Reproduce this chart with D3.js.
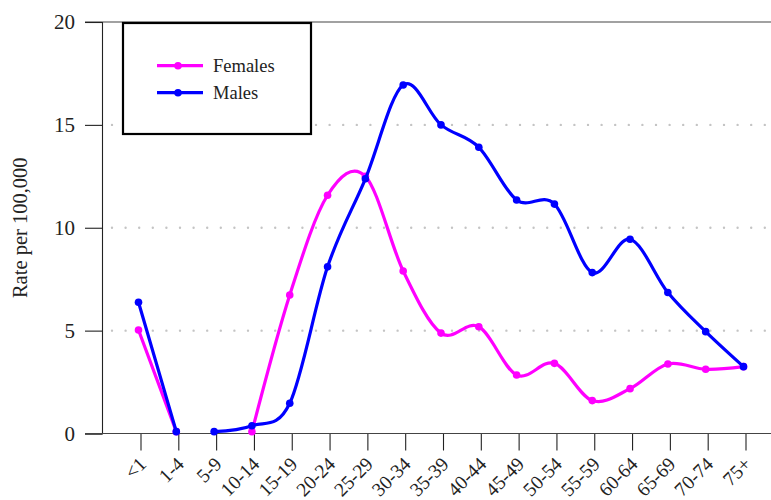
<!DOCTYPE html>
<html>
<head>
<meta charset="utf-8">
<script src="https://cdn.jsdelivr.net/npm/d3@7"></script>
<style>
  html, body { margin: 0; padding: 0; background: #fff; }
  svg text { font-family: "Liberation Serif", "DejaVu Serif", serif; fill: #222; }
</style>
</head>
<body>
<svg id="chart" width="771" height="500"></svg>
<script>
// Age groups along the x axis
const ageGroups = ["<1", "1-4", "5-9", "10-14", "15-19", "20-24", "25-29", "30-34",
  "35-39", "40-44", "45-49", "50-54", "55-59", "60-64", "65-69", "70-74", "75+"];

// Rates per 100,000 (null = no value reported)
const femaleRates = [5.03, 0.09, null, 0.09, 6.73, 11.58, 12.5, 7.9, 4.88, 5.19,
  2.84, 3.41, 1.6, 2.18, 3.38, 3.12, 3.25];
const maleRates = [6.38, 0.09, 0.09, 0.38, 1.47, 8.1, 12.38, 16.94, 15.0, 13.91,
  11.35, 11.15, 7.82, 9.44, 6.85, 4.95, 3.25];

// Index where each connected run of the line begins
const femaleRuns = [0, 3];
const maleRuns = [0, 2];

const yTicks = [0, 5, 10, 15, 20];
const seriesNames = ["Females", "Males"];
const seriesColors = ["#ff00ff", "#0000ff"];

const svg = d3.select("#chart");
const W = 771;
const plotLeft = 102, plotTop = 22, plotBottom = 433.5;

const x = d3.scalePoint().domain(ageGroups).range([139.5, 744.5]);
const y = d3.scaleLinear().domain([0, 20]).range([plotBottom, plotTop]);

// Dotted horizontal guides
svg.append("g").selectAll("line")
  .data(yTicks.filter(v => v > 0 && v < 20))
  .join("line")
  .attr("x1", plotLeft + 10).attr("x2", W)
  .attr("y1", d => y(d)).attr("y2", d => y(d))
  .attr("stroke", "#c4c4c4").attr("stroke-width", 2.4)
  .attr("stroke-linecap", "round")
  .attr("stroke-dasharray", "0,13.6");

// Solid frame line at the top of the value range
svg.append("line").attr("x1", 85).attr("x2", W)
  .attr("y1", y(20)).attr("y2", y(20)).attr("stroke", "#444").attr("stroke-width", 1.2);

// Y axis
const yAxis = d3.axisLeft(y).tickValues(yTicks).tickSize(17).tickPadding(10)
  .tickFormat(d3.format("d"));
const gy = svg.append("g").attr("transform", `translate(${plotLeft},0)`).call(yAxis);
gy.select(".domain").attr("stroke", "#222").attr("stroke-width", 1.1);
gy.selectAll(".tick line").attr("stroke", "#222").attr("stroke-width", 1.1);
gy.selectAll(".tick text").style("font-size", "21px")
  .style("font-family", "Liberation Serif, serif").attr("fill", "#222");

// X axis
const xAxis = d3.axisBottom(x).tickSize(17).tickFormat(() => "");
const gx = svg.append("g").attr("transform", `translate(0,${plotBottom})`).call(xAxis);
gx.select(".domain").remove();
gx.selectAll(".tick line").attr("stroke", "#222").attr("stroke-width", 1.1)
  .attr("transform", "translate(1,0)");
svg.append("line").attr("x1", 85).attr("x2", W)
  .attr("y1", plotBottom).attr("y2", plotBottom).attr("stroke", "#444").attr("stroke-width", 1.2);

// Rotated category labels
svg.append("g").selectAll("text")
  .data(ageGroups)
  .join("text")
  .attr("transform", d => `translate(${x(d) + 3},${plotBottom + 27}) rotate(-45)`)
  .attr("text-anchor", "end")
  .attr("dy", "0.35em")
  .style("font-size", "19.5px")
  .text(d => d);

// Y axis title
svg.append("text")
  .attr("transform", `translate(27,${(plotTop + plotBottom) / 2}) rotate(-90)`)
  .attr("text-anchor", "middle")
  .style("font-size", "20.5px")
  .text("Rate per 100,000");

// Split a series into connected runs
function runs(values, starts) {
  const out = [];
  starts.forEach((s, k) => {
    const e = k + 1 < starts.length ? starts[k + 1] : values.length;
    const pts = [];
    for (let i = s; i < e; i++) {
      if (values[i] !== null) pts.push({ cat: ageGroups[i], v: values[i] });
    }
    if (pts.length) out.push(pts);
  });
  return out;
}

const line = d3.line()
  .x(d => x(d.cat) - 1)
  .y(d => y(d.v))
  .curve(d3.curveCatmullRom.alpha(0));

const series = [
  { name: seriesNames[0], color: seriesColors[0], values: femaleRates, starts: femaleRuns },
  { name: seriesNames[1], color: seriesColors[1], values: maleRates, starts: maleRuns }
];

series.forEach(s => {
  const g = svg.append("g");
  g.selectAll("path")
    .data(runs(s.values, s.starts))
    .join("path")
    .attr("d", line)
    .attr("fill", "none")
    .attr("stroke", s.color)
    .attr("stroke-width", 3.2)
    .attr("stroke-linejoin", "round")
    .attr("stroke-linecap", "round");
  g.selectAll("circle")
    .data(s.values.map((v, i) => ({ cat: ageGroups[i], v })).filter(d => d.v !== null))
    .join("circle")
    .attr("cx", d => x(d.cat) - 1)
    .attr("cy", d => y(d.v))
    .attr("r", 3.8)
    .attr("fill", s.color);
});

// Legend
const lg = svg.append("g");
lg.append("rect")
  .attr("x", 123).attr("y", 23).attr("width", 188).attr("height", 111)
  .attr("fill", "#fff").attr("stroke", "#000").attr("stroke-width", 2.2);
series.forEach((s, i) => {
  const ly = 65.7 + i * 27;
  lg.append("line").attr("x1", 157).attr("x2", 203).attr("y1", ly).attr("y2", ly)
    .attr("stroke", s.color).attr("stroke-width", 3.2);
  lg.append("circle").attr("cx", 178).attr("cy", ly).attr("r", 3.8).attr("fill", s.color);
  lg.append("text").attr("x", 213).attr("y", ly).attr("dy", "0.35em")
    .style("font-size", "18.5px").text(s.name);
});
</script>
</body>
</html>
